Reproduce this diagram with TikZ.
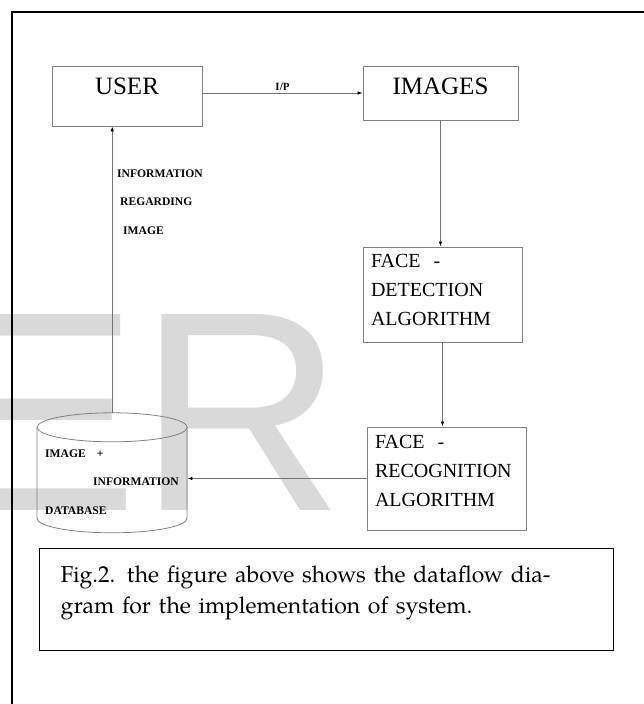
\documentclass[tikz,border=0pt]{standalone}
\usepackage{fontspec}
\setmainfont{Liberation Serif}
\newfontfamily\policelegende{texgyrepagella-regular.otf}
\newfontfamily\policefiligrane{Liberation Sans}
\usetikzlibrary{arrows.meta}

\begin{document}
\begin{tikzpicture}[x=1pt,y=-1pt]
\clip (0,0) rectangle (644,704);
% Styles
\tikzstyle{fleche}=[-{Latex[length=5pt,width=3.5pt,color=black]},draw=black!55,line width=0.8pt]
\tikzstyle{boite}=[draw=black!50,line width=0.8pt,inner sep=0pt,font=\fontsize{25}{28}\selectfont]
\tikzstyle{algo}=[draw=black!50,line width=0.8pt,inner xsep=8pt,inner ysep=0pt,text width=143pt,align=left,font=\fontsize{20}{29}\selectfont]
\tikzstyle{etiquette}=[inner sep=0pt,align=left,font=\bfseries\fontsize{11.6}{28.5}\selectfont]
\tikzstyle{contour}=[draw=black!50,line width=0.8pt]
\tikzstyle{legende}=[draw=black,line width=1.4pt,inner xsep=21pt,inner ysep=0pt,text width=532pt,align=left,text height=34pt,text depth=68pt,font=\policelegende\fontsize{23}{31}\selectfont]
\tikzstyle{filigrane}=[inner sep=0pt,text=black!15,font=\policefiligrane\fontsize{285}{285}\selectfont]
% Filigrane et cadre
\node[filigrane,anchor=base west] (Filigrane) at (-52,510) {ER};
\draw[line width=2.7pt] (12,720) -- (12,12) -- (660,12);
% Noeuds
\node[boite,minimum width=150pt,minimum height=60pt,text depth=19pt] (User) at (127,96) {USER};
\node[boite,minimum width=155pt,minimum height=54pt,text depth=13pt] (Images) at (440.5,93) {IMAGES};
\node[algo,minimum height=95pt,text depth=68pt] (Detect) at (442.5,294.5) {FACE\hspace{13pt}-\\DETECTION\\ALGORITHM};
\node[algo,minimum height=103pt,text depth=74pt] (Recog) at (446.5,478.5) {FACE\hspace{13pt}-\\RECOGNITION\\ALGORITHM};
\node[etiquette,anchor=base west] (Info) at (117,234) {INFORMATION\\\hspace{3pt}REGARDING\\\hspace{6pt}IMAGE};
\node[etiquette,text width=134pt,inner xsep=8pt,text height=44pt,text depth=76pt,anchor=base west] (Base) at (37,457)
  {IMAGE\hspace{11pt}+\\\hspace{48pt}INFORMATION\\DATABASE};
\node[legende,anchor=north west] (Legende) at (39,548)
  {Fig.2. the figure above shows the dataflow dia-\\gram for the implementation of system.};
% Base de donnees (cylindre)
\draw[contour] (Base.north) ++(0,14.5) ellipse [x radius=75,y radius=14.5];
\draw[contour] (Base.north west) ++(0,14.5) -- ++(0,91) arc[start angle=180,end angle=0,x radius=75,y radius=14.5] -- ++(0,-91);
% Arcs
\draw[fleche] (Images.west -| User.east) -- (Images.west) node[midway,above,inner sep=2pt,font=\bfseries\fontsize{11}{13}\selectfont] {I/P};
\draw[fleche] (Images.south) -- (Images.south |- Detect.north);
\draw[fleche] (Detect.south) -- (Detect.south |- Recog.north);
\draw[fleche] (Recog.west) -- (Recog.west -| Base.east);
\draw[fleche] (Base.north) -- (Base.north |- User.south);
\end{tikzpicture}
\end{document}
